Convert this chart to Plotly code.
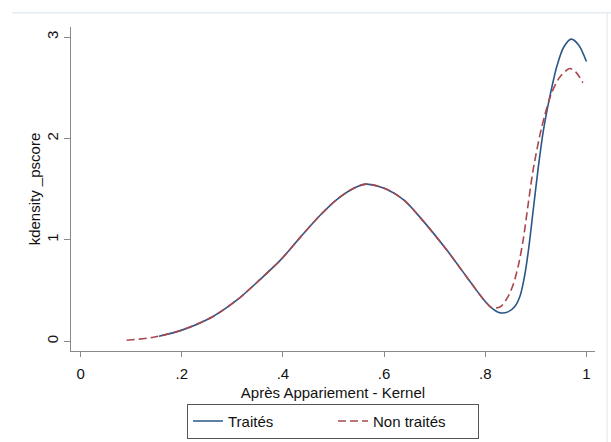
import plotly.graph_objects as go

# Data (kernel density of propensity score after matching)
x_traites = [0.155, 0.20, 0.26, 0.31, 0.355, 0.395, 0.435, 0.475, 0.507, 0.54, 0.565,
             0.605, 0.64, 0.675, 0.724, 0.764, 0.797, 0.815, 0.83, 0.845, 0.858, 0.869,
             0.878, 0.886, 0.895, 0.905, 0.915, 0.928, 0.942, 0.955, 0.97, 0.985, 1.0]
y_traites = [0.05, 0.11, 0.24, 0.41, 0.61, 0.80, 1.03, 1.25, 1.40, 1.51, 1.55,
             1.50, 1.39, 1.20, 0.90, 0.63, 0.41, 0.32, 0.28, 0.29, 0.34, 0.45,
             0.65, 0.92, 1.30, 1.72, 2.08, 2.42, 2.72, 2.90, 2.98, 2.92, 2.76]

x_non_traites = [0.091, 0.144, 0.20, 0.26, 0.31, 0.355, 0.395, 0.435, 0.475, 0.507, 0.54, 0.565,
                 0.605, 0.64, 0.675, 0.724, 0.764, 0.797, 0.813, 0.83, 0.845, 0.856, 0.866,
                 0.875, 0.884, 0.895, 0.912, 0.932, 0.948, 0.967, 0.98, 0.993]
y_non_traites = [0.01, 0.04, 0.11, 0.24, 0.41, 0.61, 0.80, 1.03, 1.25, 1.40, 1.51, 1.55,
                 1.50, 1.39, 1.20, 0.90, 0.63, 0.41, 0.33, 0.34, 0.44, 0.57, 0.76,
                 1.00, 1.32, 1.70, 2.12, 2.46, 2.61, 2.69, 2.65, 2.55]

x_tickvals = [0, 0.2, 0.4, 0.6, 0.8, 1]
x_ticktext = ["0", ".2", ".4", ".6", ".8", "1"]
y_tickvals = [0, 1, 2, 3]

BLUE = "#2a5788"
RED = "#a8484e"
FONT = "Liberation Sans, Arial, sans-serif"
TXT = "#111111"

fig = go.Figure()
fig.add_trace(go.Scatter(x=x_traites, y=y_traites, mode="lines", name="Traités",
                         line=dict(color=BLUE, width=1.6, shape="spline", smoothing=0.8)))
fig.add_trace(go.Scatter(x=x_non_traites, y=y_non_traites, mode="lines", name="Non traités",
                         line=dict(color=RED, width=1.6, dash="8px,4px", shape="spline", smoothing=0.8)))

axis_common = dict(showgrid=False, zeroline=False, showline=True, linecolor="#8a8a8a",
                   linewidth=1, ticks="outside", tickcolor="#8a8a8a", automargin=False,
                   tickfont=dict(size=15, color=TXT, family=FONT), mirror=False)

fig.update_xaxes(range=[-0.019, 1.017], tickvals=x_tickvals, ticktext=x_ticktext, ticklen=5,
                 ticklabelstandoff=4,
                 title=dict(text="Après Appariement - Kernel", standoff=6,
                            font=dict(size=15, color=TXT, family=FONT)),
                 **axis_common)
fig.update_yaxes(range=[-0.096, 3.1], tickvals=y_tickvals, tickangle=-90, ticklen=6,
                 ticklabelstandoff=0, **axis_common)

fig.update_layout(
    width=611, height=442,
    margin=dict(l=71, r=16, t=27, b=91, autoexpand=False),
    paper_bgcolor="white", plot_bgcolor="white",
    font=dict(family=FONT, size=15, color=TXT),
    legend=dict(orientation="h", x=0.5, xanchor="center", y=-0.163, yanchor="top",
                bordercolor="#555555", borderwidth=1, font=dict(size=15, family=FONT, color=TXT),
                entrywidth=100, entrywidthmode="pixels", tracegroupgap=0),
    annotations=[
        dict(text="kdensity _pscore", xref="paper", yref="paper", x=-0.07, y=0.5,
             xanchor="center", yanchor="middle", textangle=-90, showarrow=False,
             font=dict(size=15, color=TXT, family=FONT)),
    ],
    shapes=[
        dict(type="line", xref="paper", yref="paper", x0=-0.1126, x1=1.04, y0=1.044, y1=1.044,
             line=dict(color="#e3ebf0", width=1.5)),
        dict(type="line", xref="paper", yref="paper", x0=1.023, x1=1.023, y0=1.044, y1=-0.29,
             line=dict(color="#e8eef2", width=1.5)),
    ],
)

fig.write_html("out.html")
